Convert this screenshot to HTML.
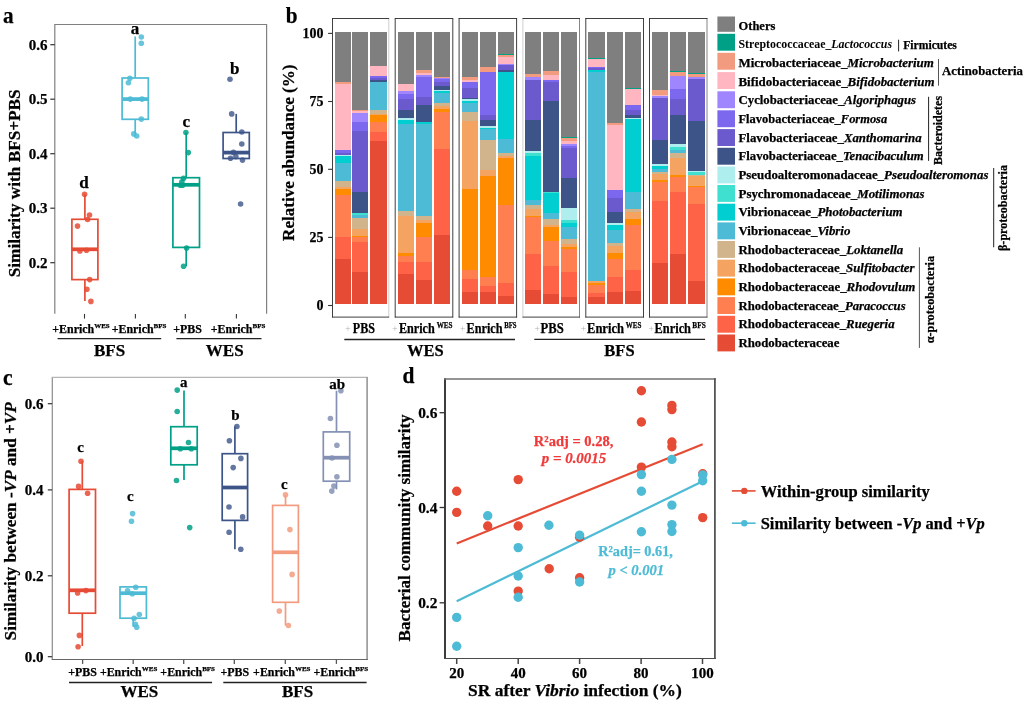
<!DOCTYPE html>
<html><head><meta charset="utf-8"><title>Figure</title>
<style>html,body{margin:0;padding:0;background:#fff;}svg{display:block;font-family:'Liberation Serif', 'Times New Roman', serif;will-change:transform;transform:translateZ(0);}</style>
</head><body>
<svg width="1024" height="703" viewBox="0 0 1024 703">
<rect x="0" y="0" width="1024" height="703" fill="#ffffff"/>
<text x="3.0" y="22.8" font-size="23.5" text-anchor="start" fill="#000" font-weight="bold" textLength="10.6" lengthAdjust="spacingAndGlyphs" stroke="#000" stroke-width="0.25" >a</text>
<path d="M54.8 313.8 V24.5 H266.6 V313.8" fill="none" stroke="#808080" stroke-width="1.2"/>
<line x1="50.3" y1="262.7" x2="54.8" y2="262.7" stroke="#333" stroke-width="1.2" />
<text x="47.6" y="267.5" font-size="15" text-anchor="end" fill="#000" font-weight="bold" stroke="#000" stroke-width="0.25" >0.2</text>
<line x1="50.3" y1="208.2" x2="54.8" y2="208.2" stroke="#333" stroke-width="1.2" />
<text x="47.6" y="213.0" font-size="15" text-anchor="end" fill="#000" font-weight="bold" stroke="#000" stroke-width="0.25" >0.3</text>
<line x1="50.3" y1="153.7" x2="54.8" y2="153.7" stroke="#333" stroke-width="1.2" />
<text x="47.6" y="158.5" font-size="15" text-anchor="end" fill="#000" font-weight="bold" stroke="#000" stroke-width="0.25" >0.4</text>
<line x1="50.3" y1="99.2" x2="54.8" y2="99.2" stroke="#333" stroke-width="1.2" />
<text x="47.6" y="104.0" font-size="15" text-anchor="end" fill="#000" font-weight="bold" stroke="#000" stroke-width="0.25" >0.5</text>
<line x1="50.3" y1="44.7" x2="54.8" y2="44.7" stroke="#333" stroke-width="1.2" />
<text x="47.6" y="49.5" font-size="15" text-anchor="end" fill="#000" font-weight="bold" stroke="#000" stroke-width="0.25" >0.6</text>
<text x="20.3" y="183.3" font-size="17.6" text-anchor="middle" fill="#000" font-weight="bold" transform="rotate(-90 20.3 183.3)" textLength="188.0" lengthAdjust="spacingAndGlyphs" stroke="#000" stroke-width="0.25" >Similarity with BFS+PBS</text>
<line x1="84.5" y1="313.9" x2="84.5" y2="318.6" stroke="#333" stroke-width="1.1" />
<line x1="135.4" y1="313.9" x2="135.4" y2="318.6" stroke="#333" stroke-width="1.1" />
<line x1="185.3" y1="313.9" x2="185.3" y2="318.6" stroke="#333" stroke-width="1.1" />
<line x1="236.4" y1="313.9" x2="236.4" y2="318.6" stroke="#333" stroke-width="1.1" />
<line x1="84.9" y1="194.2" x2="84.9" y2="219.3" stroke="#E64B35" stroke-width="1.7" />
<line x1="84.9" y1="279.6" x2="84.9" y2="300.9" stroke="#E64B35" stroke-width="1.7" />
<rect x="71.90" y="219.30" width="26.00" height="60.30" fill="none" stroke="#E64B35" stroke-width="1.7" />
<line x1="71.9" y1="249.3" x2="97.9" y2="249.3" stroke="#E64B35" stroke-width="3.74" />
<circle cx="84.6" cy="194.2" r="2.8" fill="#E64B35" fill-opacity="0.85"/>
<circle cx="89.5" cy="215.0" r="2.8" fill="#E64B35" fill-opacity="0.85"/>
<circle cx="87.6" cy="219.5" r="2.8" fill="#E64B35" fill-opacity="0.85"/>
<circle cx="77.5" cy="226.1" r="2.8" fill="#E64B35" fill-opacity="0.85"/>
<circle cx="79.9" cy="250.9" r="2.8" fill="#E64B35" fill-opacity="0.85"/>
<circle cx="86.5" cy="250.2" r="2.8" fill="#E64B35" fill-opacity="0.85"/>
<circle cx="89.7" cy="279.6" r="2.8" fill="#E64B35" fill-opacity="0.85"/>
<circle cx="86.9" cy="289.2" r="2.8" fill="#E64B35" fill-opacity="0.85"/>
<circle cx="90.9" cy="301.4" r="2.8" fill="#E64B35" fill-opacity="0.85"/>
<line x1="135.2" y1="36.5" x2="135.2" y2="78.0" stroke="#4DBBD5" stroke-width="1.7" />
<line x1="135.2" y1="119.3" x2="135.2" y2="134.3" stroke="#4DBBD5" stroke-width="1.7" />
<rect x="122.10" y="78.00" width="26.20" height="41.30" fill="none" stroke="#4DBBD5" stroke-width="1.7" />
<line x1="122.1" y1="99.1" x2="148.3" y2="99.1" stroke="#4DBBD5" stroke-width="3.74" />
<circle cx="141.3" cy="37.0" r="2.8" fill="#4DBBD5" fill-opacity="0.85"/>
<circle cx="141.3" cy="43.3" r="2.8" fill="#4DBBD5" fill-opacity="0.85"/>
<circle cx="129.9" cy="78.3" r="2.8" fill="#4DBBD5" fill-opacity="0.85"/>
<circle cx="128.4" cy="82.7" r="2.8" fill="#4DBBD5" fill-opacity="0.85"/>
<circle cx="130.3" cy="99.1" r="2.8" fill="#4DBBD5" fill-opacity="0.85"/>
<circle cx="142.0" cy="99.1" r="2.8" fill="#4DBBD5" fill-opacity="0.85"/>
<circle cx="141.3" cy="119.1" r="2.8" fill="#4DBBD5" fill-opacity="0.85"/>
<circle cx="133.8" cy="133.9" r="2.8" fill="#4DBBD5" fill-opacity="0.85"/>
<circle cx="136.7" cy="136.0" r="2.8" fill="#4DBBD5" fill-opacity="0.85"/>
<line x1="186.2" y1="132.5" x2="186.2" y2="177.7" stroke="#00A087" stroke-width="1.7" />
<line x1="186.2" y1="247.4" x2="186.2" y2="266.2" stroke="#00A087" stroke-width="1.7" />
<rect x="172.90" y="177.70" width="26.60" height="69.70" fill="none" stroke="#00A087" stroke-width="1.7" />
<line x1="172.9" y1="184.8" x2="199.5" y2="184.8" stroke="#00A087" stroke-width="3.74" />
<circle cx="185.9" cy="132.5" r="2.8" fill="#00A087" fill-opacity="0.85"/>
<circle cx="188.3" cy="152.6" r="2.8" fill="#00A087" fill-opacity="0.85"/>
<circle cx="183.6" cy="178.2" r="2.8" fill="#00A087" fill-opacity="0.85"/>
<circle cx="181.9" cy="181.7" r="2.8" fill="#00A087" fill-opacity="0.85"/>
<circle cx="180.3" cy="185.2" r="2.8" fill="#00A087" fill-opacity="0.85"/>
<circle cx="182.6" cy="185.2" r="2.8" fill="#00A087" fill-opacity="0.85"/>
<circle cx="186.6" cy="248.1" r="2.8" fill="#00A087" fill-opacity="0.85"/>
<circle cx="183.6" cy="266.2" r="2.8" fill="#00A087" fill-opacity="0.85"/>
<line x1="236.2" y1="113.9" x2="236.2" y2="132.5" stroke="#3C5488" stroke-width="1.7" />
<rect x="223.10" y="132.50" width="26.20" height="26.00" fill="none" stroke="#3C5488" stroke-width="1.7" />
<line x1="223.1" y1="152.6" x2="249.3" y2="152.6" stroke="#3C5488" stroke-width="3.74" />
<circle cx="230.0" cy="79.2" r="2.8" fill="#3C5488" fill-opacity="0.8"/>
<circle cx="231.7" cy="113.9" r="2.8" fill="#3C5488" fill-opacity="0.8"/>
<circle cx="241.8" cy="132.0" r="2.8" fill="#3C5488" fill-opacity="0.8"/>
<circle cx="241.8" cy="144.0" r="2.8" fill="#3C5488" fill-opacity="0.8"/>
<circle cx="233.5" cy="152.4" r="2.8" fill="#3C5488" fill-opacity="0.8"/>
<circle cx="230.5" cy="158.3" r="2.8" fill="#3C5488" fill-opacity="0.8"/>
<circle cx="235.9" cy="156.6" r="2.8" fill="#3C5488" fill-opacity="0.8"/>
<circle cx="242.5" cy="160.1" r="2.8" fill="#3C5488" fill-opacity="0.8"/>
<circle cx="240.6" cy="204.0" r="2.8" fill="#3C5488" fill-opacity="0.8"/>
<text x="83.9" y="187.6" font-size="17" text-anchor="middle" fill="#000" font-weight="bold" stroke="#000" stroke-width="0.25" >d</text>
<text x="135.0" y="33.5" font-size="17" text-anchor="middle" fill="#000" font-weight="bold" stroke="#000" stroke-width="0.25" >a</text>
<text x="186.2" y="126.8" font-size="17" text-anchor="middle" fill="#000" font-weight="bold" stroke="#000" stroke-width="0.25" >c</text>
<text x="234.7" y="73.8" font-size="17" text-anchor="middle" fill="#000" font-weight="bold" stroke="#000" stroke-width="0.25" >b</text>
<text x="81.0" y="332.6" font-size="11.9" text-anchor="middle" fill="#000" font-weight="bold" stroke="#000" stroke-width="0.25" ><tspan fill="#000" font-weight="bold">+</tspan>Enrich<tspan font-size="7" dy="-4.4">WES</tspan></text>
<text x="139.1" y="332.6" font-size="11.9" text-anchor="middle" fill="#000" font-weight="bold" stroke="#000" stroke-width="0.25" ><tspan fill="#000" font-weight="bold">+</tspan>Enrich<tspan font-size="7" dy="-4.4">BFS</tspan></text>
<text x="187.6" y="332.6" font-size="11.9" text-anchor="middle" fill="#000" font-weight="bold" stroke="#000" stroke-width="0.25" ><tspan fill="#000" font-weight="bold">+</tspan>PBS</text>
<text x="238.0" y="332.6" font-size="11.9" text-anchor="middle" fill="#000" font-weight="bold" stroke="#000" stroke-width="0.25" ><tspan fill="#000" font-weight="bold">+</tspan>Enrich<tspan font-size="7" dy="-4.4">BFS</tspan></text>
<line x1="57.6" y1="338.7" x2="161.2" y2="338.7" stroke="#222" stroke-width="1.3" />
<line x1="176.4" y1="338.7" x2="261.5" y2="338.7" stroke="#222" stroke-width="1.3" />
<text x="109.6" y="356.3" font-size="17" text-anchor="middle" fill="#000" font-weight="bold" stroke="#000" stroke-width="0.25" >BFS</text>
<text x="224.7" y="356.3" font-size="17" text-anchor="middle" fill="#000" font-weight="bold" stroke="#000" stroke-width="0.25" >WES</text>
<text x="285.8" y="22.8" font-size="23.5" text-anchor="start" fill="#000" font-weight="bold" textLength="11.8" lengthAdjust="spacingAndGlyphs" stroke="#000" stroke-width="0.25" >b</text>
<g shape-rendering="crispEdges">
<rect x="334.75" y="32.06" width="16.15" height="49.99" fill="#7F7F7F" stroke="none" stroke-width="1" />
<rect x="334.75" y="81.75" width="16.15" height="2.22" fill="#F39B7F" stroke="none" stroke-width="1" />
<rect x="334.75" y="83.67" width="16.15" height="66.84" fill="#FFB6C1" stroke="none" stroke-width="1" />
<rect x="334.75" y="150.21" width="16.15" height="2.65" fill="#7B68EE" stroke="none" stroke-width="1" />
<rect x="334.75" y="152.56" width="16.15" height="2.43" fill="#6A5ACD" stroke="none" stroke-width="1" />
<rect x="334.75" y="154.69" width="16.15" height="1.79" fill="#AFEEEE" stroke="none" stroke-width="1" />
<rect x="334.75" y="156.18" width="16.15" height="7.10" fill="#00CED1" stroke="none" stroke-width="1" />
<rect x="334.75" y="162.99" width="16.15" height="18.64" fill="#4DBBD5" stroke="none" stroke-width="1" />
<rect x="334.75" y="181.33" width="16.15" height="6.06" fill="#D2B48C" stroke="none" stroke-width="1" />
<rect x="334.75" y="187.08" width="16.15" height="2.65" fill="#F4A460" stroke="none" stroke-width="1" />
<rect x="334.75" y="189.43" width="16.15" height="5.84" fill="#FF8C00" stroke="none" stroke-width="1" />
<rect x="334.75" y="194.98" width="16.15" height="42.10" fill="#FF7F50" stroke="none" stroke-width="1" />
<rect x="334.75" y="236.78" width="16.15" height="22.27" fill="#FF6347" stroke="none" stroke-width="1" />
<rect x="334.75" y="258.74" width="16.15" height="45.63" fill="#E64B35" stroke="none" stroke-width="1" />
</g>
<g shape-rendering="crispEdges">
<rect x="352.25" y="32.06" width="16.15" height="78.36" fill="#7F7F7F" stroke="none" stroke-width="1" />
<rect x="352.25" y="110.12" width="16.15" height="1.58" fill="#F39B7F" stroke="none" stroke-width="1" />
<rect x="352.25" y="111.40" width="16.15" height="1.58" fill="#FFB6C1" stroke="none" stroke-width="1" />
<rect x="352.25" y="112.68" width="16.15" height="9.26" fill="#9F86FF" stroke="none" stroke-width="1" />
<rect x="352.25" y="121.63" width="16.15" height="9.90" fill="#7B68EE" stroke="none" stroke-width="1" />
<rect x="352.25" y="131.23" width="16.15" height="61.06" fill="#6A5ACD" stroke="none" stroke-width="1" />
<rect x="352.25" y="191.99" width="16.15" height="21.20" fill="#3C5488" stroke="none" stroke-width="1" />
<rect x="352.25" y="212.89" width="16.15" height="2.01" fill="#40E0D0" stroke="none" stroke-width="1" />
<rect x="352.25" y="214.60" width="16.15" height="3.71" fill="#4DBBD5" stroke="none" stroke-width="1" />
<rect x="352.25" y="218.01" width="16.15" height="10.96" fill="#D2B48C" stroke="none" stroke-width="1" />
<rect x="352.25" y="228.67" width="16.15" height="7.12" fill="#F4A460" stroke="none" stroke-width="1" />
<rect x="352.25" y="235.50" width="16.15" height="1.58" fill="#FF8C00" stroke="none" stroke-width="1" />
<rect x="352.25" y="236.78" width="16.15" height="5.63" fill="#FF7F50" stroke="none" stroke-width="1" />
<rect x="352.25" y="242.11" width="16.15" height="29.73" fill="#FF6347" stroke="none" stroke-width="1" />
<rect x="352.25" y="271.54" width="16.15" height="32.83" fill="#E64B35" stroke="none" stroke-width="1" />
</g>
<g shape-rendering="crispEdges">
<rect x="370.00" y="32.06" width="16.90" height="33.78" fill="#7F7F7F" stroke="none" stroke-width="1" />
<rect x="370.00" y="65.54" width="16.90" height="11.18" fill="#FFB6C1" stroke="none" stroke-width="1" />
<rect x="370.00" y="76.42" width="16.90" height="2.22" fill="#7B68EE" stroke="none" stroke-width="1" />
<rect x="370.00" y="78.34" width="16.90" height="2.22" fill="#6A5ACD" stroke="none" stroke-width="1" />
<rect x="370.00" y="80.26" width="16.90" height="2.01" fill="#3C5488" stroke="none" stroke-width="1" />
<rect x="370.00" y="81.97" width="16.90" height="28.45" fill="#4DBBD5" stroke="none" stroke-width="1" />
<rect x="370.00" y="110.12" width="16.90" height="3.71" fill="#D2B48C" stroke="none" stroke-width="1" />
<rect x="370.00" y="113.53" width="16.90" height="2.01" fill="#F4A460" stroke="none" stroke-width="1" />
<rect x="370.00" y="115.23" width="16.90" height="7.12" fill="#FF8C00" stroke="none" stroke-width="1" />
<rect x="370.00" y="122.06" width="16.90" height="10.11" fill="#FF7F50" stroke="none" stroke-width="1" />
<rect x="370.00" y="131.87" width="16.90" height="9.26" fill="#FF6347" stroke="none" stroke-width="1" />
<rect x="370.00" y="140.83" width="16.90" height="163.54" fill="#E64B35" stroke="none" stroke-width="1" />
</g>
<line x1="332.5" y1="18.1" x2="332.5" y2="317.5" stroke="#2a2a2a" stroke-width="0.9" />
<line x1="388.8" y1="18.1" x2="388.8" y2="317.5" stroke="#c8c8c8" stroke-width="0.9" />
<line x1="332.1" y1="18.5" x2="389.1" y2="18.5" stroke="#2a2a2a" stroke-width="0.9" />
<line x1="332.1" y1="317.1" x2="389.1" y2="317.1" stroke="#2a2a2a" stroke-width="0.9" />
<g shape-rendering="crispEdges">
<rect x="398.10" y="32.06" width="15.90" height="52.12" fill="#7F7F7F" stroke="none" stroke-width="1" />
<rect x="398.10" y="83.88" width="15.90" height="7.34" fill="#FFB6C1" stroke="none" stroke-width="1" />
<rect x="398.10" y="90.92" width="15.90" height="3.29" fill="#9F86FF" stroke="none" stroke-width="1" />
<rect x="398.10" y="93.91" width="15.90" height="5.63" fill="#7B68EE" stroke="none" stroke-width="1" />
<rect x="398.10" y="99.24" width="15.90" height="10.96" fill="#6A5ACD" stroke="none" stroke-width="1" />
<rect x="398.10" y="109.90" width="15.90" height="8.83" fill="#3C5488" stroke="none" stroke-width="1" />
<rect x="398.10" y="118.43" width="15.90" height="1.37" fill="#AFEEEE" stroke="none" stroke-width="1" />
<rect x="398.10" y="119.50" width="15.90" height="4.57" fill="#00CED1" stroke="none" stroke-width="1" />
<rect x="398.10" y="123.77" width="15.90" height="87.29" fill="#4DBBD5" stroke="none" stroke-width="1" />
<rect x="398.10" y="210.76" width="15.90" height="5.42" fill="#D2B48C" stroke="none" stroke-width="1" />
<rect x="398.10" y="215.88" width="15.90" height="36.98" fill="#F4A460" stroke="none" stroke-width="1" />
<rect x="398.10" y="252.56" width="15.90" height="3.71" fill="#FF8C00" stroke="none" stroke-width="1" />
<rect x="398.10" y="255.97" width="15.90" height="5.84" fill="#FF7F50" stroke="none" stroke-width="1" />
<rect x="398.10" y="261.51" width="15.90" height="12.88" fill="#FF6347" stroke="none" stroke-width="1" />
<rect x="398.10" y="274.10" width="15.90" height="30.27" fill="#E64B35" stroke="none" stroke-width="1" />
</g>
<g shape-rendering="crispEdges">
<rect x="416.00" y="32.06" width="15.90" height="38.69" fill="#7F7F7F" stroke="none" stroke-width="1" />
<rect x="416.00" y="70.45" width="15.90" height="2.86" fill="#F39B7F" stroke="none" stroke-width="1" />
<rect x="416.00" y="73.01" width="15.90" height="2.01" fill="#FFB6C1" stroke="none" stroke-width="1" />
<rect x="416.00" y="74.71" width="15.90" height="2.43" fill="#9F86FF" stroke="none" stroke-width="1" />
<rect x="416.00" y="76.85" width="15.90" height="20.56" fill="#7B68EE" stroke="none" stroke-width="1" />
<rect x="416.00" y="97.11" width="15.90" height="8.19" fill="#6A5ACD" stroke="none" stroke-width="1" />
<rect x="416.00" y="105.00" width="15.90" height="16.93" fill="#3C5488" stroke="none" stroke-width="1" />
<rect x="416.00" y="121.63" width="15.90" height="2.43" fill="#00CED1" stroke="none" stroke-width="1" />
<rect x="416.00" y="123.77" width="15.90" height="92.41" fill="#4DBBD5" stroke="none" stroke-width="1" />
<rect x="416.00" y="215.88" width="15.90" height="4.14" fill="#D2B48C" stroke="none" stroke-width="1" />
<rect x="416.00" y="219.71" width="15.90" height="3.29" fill="#F4A460" stroke="none" stroke-width="1" />
<rect x="416.00" y="222.70" width="15.90" height="14.38" fill="#FF8C00" stroke="none" stroke-width="1" />
<rect x="416.00" y="236.78" width="15.90" height="25.04" fill="#FF7F50" stroke="none" stroke-width="1" />
<rect x="416.00" y="261.51" width="15.90" height="18.43" fill="#FF6347" stroke="none" stroke-width="1" />
<rect x="416.00" y="279.64" width="15.90" height="24.73" fill="#E64B35" stroke="none" stroke-width="1" />
</g>
<g shape-rendering="crispEdges">
<rect x="434.00" y="32.06" width="16.25" height="45.09" fill="#7F7F7F" stroke="none" stroke-width="1" />
<rect x="434.00" y="76.85" width="16.25" height="1.58" fill="#F39B7F" stroke="none" stroke-width="1" />
<rect x="434.00" y="78.13" width="16.25" height="1.58" fill="#9F86FF" stroke="none" stroke-width="1" />
<rect x="434.00" y="79.41" width="16.25" height="2.43" fill="#7B68EE" stroke="none" stroke-width="1" />
<rect x="434.00" y="81.54" width="16.25" height="4.57" fill="#6A5ACD" stroke="none" stroke-width="1" />
<rect x="434.00" y="85.80" width="16.25" height="4.14" fill="#3C5488" stroke="none" stroke-width="1" />
<rect x="434.00" y="89.64" width="16.25" height="1.15" fill="#AFEEEE" stroke="none" stroke-width="1" />
<rect x="434.00" y="90.50" width="16.25" height="2.65" fill="#00CED1" stroke="none" stroke-width="1" />
<rect x="434.00" y="92.84" width="16.25" height="10.32" fill="#4DBBD5" stroke="none" stroke-width="1" />
<rect x="434.00" y="102.87" width="16.25" height="3.71" fill="#D2B48C" stroke="none" stroke-width="1" />
<rect x="434.00" y="106.28" width="16.25" height="3.29" fill="#F4A460" stroke="none" stroke-width="1" />
<rect x="434.00" y="109.26" width="16.25" height="3.29" fill="#FF8C00" stroke="none" stroke-width="1" />
<rect x="434.00" y="112.25" width="16.25" height="36.56" fill="#FF7F50" stroke="none" stroke-width="1" />
<rect x="434.00" y="148.50" width="16.25" height="86.87" fill="#FF6347" stroke="none" stroke-width="1" />
<rect x="434.00" y="235.07" width="16.25" height="69.30" fill="#E64B35" stroke="none" stroke-width="1" />
</g>
<line x1="395.2" y1="18.1" x2="395.2" y2="317.5" stroke="#2a2a2a" stroke-width="0.9" />
<line x1="452.8" y1="18.1" x2="452.8" y2="317.5" stroke="#2a2a2a" stroke-width="0.9" />
<line x1="394.9" y1="18.5" x2="453.1" y2="18.5" stroke="#2a2a2a" stroke-width="0.9" />
<line x1="394.9" y1="317.1" x2="453.1" y2="317.1" stroke="#2a2a2a" stroke-width="0.9" />
<g shape-rendering="crispEdges">
<rect x="461.60" y="32.06" width="15.90" height="45.09" fill="#7F7F7F" stroke="none" stroke-width="1" />
<rect x="461.60" y="76.85" width="15.90" height="3.93" fill="#F39B7F" stroke="none" stroke-width="1" />
<rect x="461.60" y="80.47" width="15.90" height="1.79" fill="#FFB6C1" stroke="none" stroke-width="1" />
<rect x="461.60" y="81.97" width="15.90" height="5.84" fill="#7B68EE" stroke="none" stroke-width="1" />
<rect x="461.60" y="87.51" width="15.90" height="10.54" fill="#6A5ACD" stroke="none" stroke-width="1" />
<rect x="461.60" y="97.75" width="15.90" height="1.79" fill="#3C5488" stroke="none" stroke-width="1" />
<rect x="461.60" y="99.24" width="15.90" height="2.43" fill="#AFEEEE" stroke="none" stroke-width="1" />
<rect x="461.60" y="101.37" width="15.90" height="1.79" fill="#00CED1" stroke="none" stroke-width="1" />
<rect x="461.60" y="102.87" width="15.90" height="9.47" fill="#4DBBD5" stroke="none" stroke-width="1" />
<rect x="461.60" y="112.04" width="15.90" height="9.47" fill="#D2B48C" stroke="none" stroke-width="1" />
<rect x="461.60" y="121.21" width="15.90" height="68.52" fill="#F4A460" stroke="none" stroke-width="1" />
<rect x="461.60" y="189.43" width="15.90" height="80.70" fill="#FF8C00" stroke="none" stroke-width="1" />
<rect x="461.60" y="269.83" width="15.90" height="9.26" fill="#FF7F50" stroke="none" stroke-width="1" />
<rect x="461.60" y="278.79" width="15.90" height="13.31" fill="#FF6347" stroke="none" stroke-width="1" />
<rect x="461.60" y="291.80" width="15.90" height="12.57" fill="#E64B35" stroke="none" stroke-width="1" />
</g>
<g shape-rendering="crispEdges">
<rect x="480.00" y="32.06" width="16.00" height="35.49" fill="#7F7F7F" stroke="none" stroke-width="1" />
<rect x="480.00" y="67.25" width="16.00" height="4.78" fill="#F39B7F" stroke="none" stroke-width="1" />
<rect x="480.00" y="71.73" width="16.00" height="43.38" fill="#7B68EE" stroke="none" stroke-width="1" />
<rect x="480.00" y="114.81" width="16.00" height="4.99" fill="#6A5ACD" stroke="none" stroke-width="1" />
<rect x="480.00" y="119.50" width="16.00" height="7.12" fill="#3C5488" stroke="none" stroke-width="1" />
<rect x="480.00" y="126.32" width="16.00" height="1.58" fill="#AFEEEE" stroke="none" stroke-width="1" />
<rect x="480.00" y="127.60" width="16.00" height="1.79" fill="#00CED1" stroke="none" stroke-width="1" />
<rect x="480.00" y="129.10" width="16.00" height="10.75" fill="#4DBBD5" stroke="none" stroke-width="1" />
<rect x="480.00" y="139.55" width="16.00" height="30.99" fill="#D2B48C" stroke="none" stroke-width="1" />
<rect x="480.00" y="170.24" width="16.00" height="5.84" fill="#F4A460" stroke="none" stroke-width="1" />
<rect x="480.00" y="175.78" width="16.00" height="101.39" fill="#FF8C00" stroke="none" stroke-width="1" />
<rect x="480.00" y="276.87" width="16.00" height="9.68" fill="#FF7F50" stroke="none" stroke-width="1" />
<rect x="480.00" y="286.25" width="16.00" height="6.27" fill="#FF6347" stroke="none" stroke-width="1" />
<rect x="480.00" y="292.22" width="16.00" height="12.14" fill="#E64B35" stroke="none" stroke-width="1" />
</g>
<g shape-rendering="crispEdges">
<rect x="497.90" y="32.06" width="15.85" height="22.05" fill="#7F7F7F" stroke="none" stroke-width="1" />
<rect x="497.90" y="53.81" width="15.85" height="1.58" fill="#00A087" stroke="none" stroke-width="1" />
<rect x="497.90" y="55.09" width="15.85" height="2.43" fill="#F39B7F" stroke="none" stroke-width="1" />
<rect x="497.90" y="57.23" width="15.85" height="7.12" fill="#FFB6C1" stroke="none" stroke-width="1" />
<rect x="497.90" y="64.05" width="15.85" height="1.15" fill="#9F86FF" stroke="none" stroke-width="1" />
<rect x="497.90" y="64.90" width="15.85" height="5.42" fill="#6A5ACD" stroke="none" stroke-width="1" />
<rect x="497.90" y="70.02" width="15.85" height="2.01" fill="#3C5488" stroke="none" stroke-width="1" />
<rect x="497.90" y="71.73" width="15.85" height="67.27" fill="#00CED1" stroke="none" stroke-width="1" />
<rect x="497.90" y="138.69" width="15.85" height="14.80" fill="#4DBBD5" stroke="none" stroke-width="1" />
<rect x="497.90" y="153.20" width="15.85" height="2.86" fill="#D2B48C" stroke="none" stroke-width="1" />
<rect x="497.90" y="155.75" width="15.85" height="2.43" fill="#F4A460" stroke="none" stroke-width="1" />
<rect x="497.90" y="157.89" width="15.85" height="47.20" fill="#FF8C00" stroke="none" stroke-width="1" />
<rect x="497.90" y="204.79" width="15.85" height="78.14" fill="#FF7F50" stroke="none" stroke-width="1" />
<rect x="497.90" y="282.63" width="15.85" height="13.52" fill="#FF6347" stroke="none" stroke-width="1" />
<rect x="497.90" y="295.85" width="15.85" height="8.52" fill="#E64B35" stroke="none" stroke-width="1" />
</g>
<line x1="459.1" y1="18.1" x2="459.1" y2="317.5" stroke="#2a2a2a" stroke-width="0.9" />
<line x1="516.6" y1="18.1" x2="516.6" y2="317.5" stroke="#2a2a2a" stroke-width="0.9" />
<line x1="458.7" y1="18.5" x2="517.0" y2="18.5" stroke="#2a2a2a" stroke-width="0.9" />
<line x1="458.7" y1="317.1" x2="517.0" y2="317.1" stroke="#2a2a2a" stroke-width="0.9" />
<g shape-rendering="crispEdges">
<rect x="525.10" y="32.06" width="16.15" height="42.31" fill="#7F7F7F" stroke="none" stroke-width="1" />
<rect x="525.10" y="74.07" width="16.15" height="3.71" fill="#F39B7F" stroke="none" stroke-width="1" />
<rect x="525.10" y="77.49" width="16.15" height="3.29" fill="#9F86FF" stroke="none" stroke-width="1" />
<rect x="525.10" y="80.47" width="16.15" height="39.33" fill="#6A5ACD" stroke="none" stroke-width="1" />
<rect x="525.10" y="119.50" width="16.15" height="31.65" fill="#3C5488" stroke="none" stroke-width="1" />
<rect x="525.10" y="150.85" width="16.15" height="2.01" fill="#AFEEEE" stroke="none" stroke-width="1" />
<rect x="525.10" y="152.56" width="16.15" height="3.50" fill="#40E0D0" stroke="none" stroke-width="1" />
<rect x="525.10" y="155.75" width="16.15" height="44.64" fill="#00CED1" stroke="none" stroke-width="1" />
<rect x="525.10" y="200.09" width="16.15" height="5.42" fill="#4DBBD5" stroke="none" stroke-width="1" />
<rect x="525.10" y="205.21" width="16.15" height="4.57" fill="#D2B48C" stroke="none" stroke-width="1" />
<rect x="525.10" y="209.48" width="16.15" height="6.70" fill="#F4A460" stroke="none" stroke-width="1" />
<rect x="525.10" y="215.88" width="16.15" height="1.37" fill="#FF8C00" stroke="none" stroke-width="1" />
<rect x="525.10" y="216.94" width="16.15" height="37.19" fill="#FF7F50" stroke="none" stroke-width="1" />
<rect x="525.10" y="253.84" width="16.15" height="36.13" fill="#FF6347" stroke="none" stroke-width="1" />
<rect x="525.10" y="289.67" width="16.15" height="14.70" fill="#E64B35" stroke="none" stroke-width="1" />
</g>
<g shape-rendering="crispEdges">
<rect x="543.10" y="32.06" width="15.65" height="39.33" fill="#7F7F7F" stroke="none" stroke-width="1" />
<rect x="543.10" y="71.09" width="15.65" height="4.57" fill="#F39B7F" stroke="none" stroke-width="1" />
<rect x="543.10" y="75.35" width="15.65" height="5.42" fill="#FFB6C1" stroke="none" stroke-width="1" />
<rect x="543.10" y="80.47" width="15.65" height="1.37" fill="#7B68EE" stroke="none" stroke-width="1" />
<rect x="543.10" y="81.54" width="15.65" height="19.71" fill="#6A5ACD" stroke="none" stroke-width="1" />
<rect x="543.10" y="100.95" width="15.65" height="91.34" fill="#3C5488" stroke="none" stroke-width="1" />
<rect x="543.10" y="191.99" width="15.65" height="1.79" fill="#40E0D0" stroke="none" stroke-width="1" />
<rect x="543.10" y="193.48" width="15.65" height="20.13" fill="#00CED1" stroke="none" stroke-width="1" />
<rect x="543.10" y="213.32" width="15.65" height="5.84" fill="#4DBBD5" stroke="none" stroke-width="1" />
<rect x="543.10" y="218.86" width="15.65" height="6.48" fill="#D2B48C" stroke="none" stroke-width="1" />
<rect x="543.10" y="225.05" width="15.65" height="2.01" fill="#F4A460" stroke="none" stroke-width="1" />
<rect x="543.10" y="226.75" width="15.65" height="15.02" fill="#FF8C00" stroke="none" stroke-width="1" />
<rect x="543.10" y="241.47" width="15.65" height="24.83" fill="#FF7F50" stroke="none" stroke-width="1" />
<rect x="543.10" y="265.99" width="15.65" height="28.66" fill="#FF6347" stroke="none" stroke-width="1" />
<rect x="543.10" y="294.36" width="15.65" height="10.01" fill="#E64B35" stroke="none" stroke-width="1" />
</g>
<g shape-rendering="crispEdges">
<rect x="561.00" y="32.06" width="16.00" height="104.80" fill="#7F7F7F" stroke="none" stroke-width="1" />
<rect x="561.00" y="136.56" width="16.00" height="1.79" fill="#00A087" stroke="none" stroke-width="1" />
<rect x="561.00" y="138.05" width="16.00" height="3.07" fill="#F39B7F" stroke="none" stroke-width="1" />
<rect x="561.00" y="140.83" width="16.00" height="3.93" fill="#FFB6C1" stroke="none" stroke-width="1" />
<rect x="561.00" y="144.45" width="16.00" height="1.58" fill="#9F86FF" stroke="none" stroke-width="1" />
<rect x="561.00" y="145.73" width="16.00" height="2.22" fill="#7B68EE" stroke="none" stroke-width="1" />
<rect x="561.00" y="147.65" width="16.00" height="30.56" fill="#6A5ACD" stroke="none" stroke-width="1" />
<rect x="561.00" y="177.91" width="16.00" height="30.16" fill="#3C5488" stroke="none" stroke-width="1" />
<rect x="561.00" y="207.77" width="16.00" height="12.46" fill="#AFEEEE" stroke="none" stroke-width="1" />
<rect x="561.00" y="219.93" width="16.00" height="3.50" fill="#40E0D0" stroke="none" stroke-width="1" />
<rect x="561.00" y="223.13" width="16.00" height="4.14" fill="#00CED1" stroke="none" stroke-width="1" />
<rect x="561.00" y="226.97" width="16.00" height="12.46" fill="#4DBBD5" stroke="none" stroke-width="1" />
<rect x="561.00" y="239.12" width="16.00" height="4.78" fill="#D2B48C" stroke="none" stroke-width="1" />
<rect x="561.00" y="243.60" width="16.00" height="3.71" fill="#F4A460" stroke="none" stroke-width="1" />
<rect x="561.00" y="247.01" width="16.00" height="2.22" fill="#FF8C00" stroke="none" stroke-width="1" />
<rect x="561.00" y="248.93" width="16.00" height="23.76" fill="#FF7F50" stroke="none" stroke-width="1" />
<rect x="561.00" y="272.39" width="16.00" height="25.04" fill="#FF6347" stroke="none" stroke-width="1" />
<rect x="561.00" y="297.13" width="16.00" height="7.24" fill="#E64B35" stroke="none" stroke-width="1" />
</g>
<line x1="522.9" y1="18.1" x2="522.9" y2="317.5" stroke="#c8c8c8" stroke-width="0.9" />
<line x1="579.5" y1="18.1" x2="579.5" y2="317.5" stroke="#777" stroke-width="0.9" />
<line x1="522.5" y1="18.5" x2="579.9" y2="18.5" stroke="#2a2a2a" stroke-width="0.9" />
<line x1="522.5" y1="317.1" x2="579.9" y2="317.1" stroke="#2a2a2a" stroke-width="0.9" />
<g shape-rendering="crispEdges">
<rect x="588.25" y="32.06" width="16.65" height="26.53" fill="#7F7F7F" stroke="none" stroke-width="1" />
<rect x="588.25" y="58.29" width="16.65" height="1.37" fill="#00A087" stroke="none" stroke-width="1" />
<rect x="588.25" y="59.36" width="16.65" height="7.55" fill="#FFB6C1" stroke="none" stroke-width="1" />
<rect x="588.25" y="66.61" width="16.65" height="2.01" fill="#7B68EE" stroke="none" stroke-width="1" />
<rect x="588.25" y="68.32" width="16.65" height="2.01" fill="#6A5ACD" stroke="none" stroke-width="1" />
<rect x="588.25" y="70.02" width="16.65" height="2.01" fill="#00CED1" stroke="none" stroke-width="1" />
<rect x="588.25" y="71.73" width="16.65" height="209.71" fill="#4DBBD5" stroke="none" stroke-width="1" />
<rect x="588.25" y="281.13" width="16.65" height="2.43" fill="#F4A460" stroke="none" stroke-width="1" />
<rect x="588.25" y="283.27" width="16.65" height="2.43" fill="#FF8C00" stroke="none" stroke-width="1" />
<rect x="588.25" y="285.40" width="16.65" height="7.55" fill="#FF7F50" stroke="none" stroke-width="1" />
<rect x="588.25" y="292.65" width="16.65" height="4.57" fill="#FF6347" stroke="none" stroke-width="1" />
<rect x="588.25" y="296.92" width="16.65" height="7.45" fill="#E64B35" stroke="none" stroke-width="1" />
</g>
<g shape-rendering="crispEdges">
<rect x="606.75" y="32.06" width="15.85" height="91.36" fill="#7F7F7F" stroke="none" stroke-width="1" />
<rect x="606.75" y="123.13" width="15.85" height="2.01" fill="#F39B7F" stroke="none" stroke-width="1" />
<rect x="606.75" y="124.83" width="15.85" height="65.33" fill="#FFB6C1" stroke="none" stroke-width="1" />
<rect x="606.75" y="189.86" width="15.85" height="8.40" fill="#7B68EE" stroke="none" stroke-width="1" />
<rect x="606.75" y="197.96" width="15.85" height="14.59" fill="#6A5ACD" stroke="none" stroke-width="1" />
<rect x="606.75" y="212.25" width="15.85" height="11.18" fill="#3C5488" stroke="none" stroke-width="1" />
<rect x="606.75" y="223.13" width="15.85" height="2.01" fill="#AFEEEE" stroke="none" stroke-width="1" />
<rect x="606.75" y="224.83" width="15.85" height="5.42" fill="#00CED1" stroke="none" stroke-width="1" />
<rect x="606.75" y="229.95" width="15.85" height="13.52" fill="#4DBBD5" stroke="none" stroke-width="1" />
<rect x="606.75" y="243.17" width="15.85" height="2.86" fill="#D2B48C" stroke="none" stroke-width="1" />
<rect x="606.75" y="245.73" width="15.85" height="7.12" fill="#F4A460" stroke="none" stroke-width="1" />
<rect x="606.75" y="252.56" width="15.85" height="6.70" fill="#FF8C00" stroke="none" stroke-width="1" />
<rect x="606.75" y="258.96" width="15.85" height="18.21" fill="#FF7F50" stroke="none" stroke-width="1" />
<rect x="606.75" y="276.87" width="15.85" height="15.23" fill="#FF6347" stroke="none" stroke-width="1" />
<rect x="606.75" y="291.80" width="15.85" height="12.57" fill="#E64B35" stroke="none" stroke-width="1" />
</g>
<g shape-rendering="crispEdges">
<rect x="625.10" y="32.06" width="15.65" height="55.75" fill="#7F7F7F" stroke="none" stroke-width="1" />
<rect x="625.10" y="87.51" width="15.65" height="1.58" fill="#00A087" stroke="none" stroke-width="1" />
<rect x="625.10" y="88.79" width="15.65" height="16.51" fill="#FFB6C1" stroke="none" stroke-width="1" />
<rect x="625.10" y="105.00" width="15.65" height="5.21" fill="#7B68EE" stroke="none" stroke-width="1" />
<rect x="625.10" y="109.90" width="15.65" height="5.21" fill="#6A5ACD" stroke="none" stroke-width="1" />
<rect x="625.10" y="114.81" width="15.65" height="3.50" fill="#3C5488" stroke="none" stroke-width="1" />
<rect x="625.10" y="118.01" width="15.65" height="1.37" fill="#AFEEEE" stroke="none" stroke-width="1" />
<rect x="625.10" y="119.07" width="15.65" height="73.64" fill="#00CED1" stroke="none" stroke-width="1" />
<rect x="625.10" y="192.42" width="15.65" height="16.93" fill="#4DBBD5" stroke="none" stroke-width="1" />
<rect x="625.10" y="209.05" width="15.65" height="2.86" fill="#D2B48C" stroke="none" stroke-width="1" />
<rect x="625.10" y="211.61" width="15.65" height="7.55" fill="#F4A460" stroke="none" stroke-width="1" />
<rect x="625.10" y="218.86" width="15.65" height="6.70" fill="#FF8C00" stroke="none" stroke-width="1" />
<rect x="625.10" y="225.26" width="15.65" height="44.87" fill="#FF7F50" stroke="none" stroke-width="1" />
<rect x="625.10" y="269.83" width="15.65" height="21.20" fill="#FF6347" stroke="none" stroke-width="1" />
<rect x="625.10" y="290.73" width="15.65" height="13.64" fill="#E64B35" stroke="none" stroke-width="1" />
</g>
<line x1="585.8" y1="18.1" x2="585.8" y2="317.5" stroke="#2a2a2a" stroke-width="0.9" />
<line x1="643.5" y1="18.1" x2="643.5" y2="317.5" stroke="#2a2a2a" stroke-width="0.9" />
<line x1="585.4" y1="18.5" x2="643.9" y2="18.5" stroke="#2a2a2a" stroke-width="0.9" />
<line x1="585.4" y1="317.1" x2="643.9" y2="317.1" stroke="#2a2a2a" stroke-width="0.9" />
<g shape-rendering="crispEdges">
<rect x="652.00" y="32.06" width="16.00" height="58.31" fill="#7F7F7F" stroke="none" stroke-width="1" />
<rect x="652.00" y="90.07" width="16.00" height="5.21" fill="#F39B7F" stroke="none" stroke-width="1" />
<rect x="652.00" y="94.97" width="16.00" height="1.79" fill="#FFB6C1" stroke="none" stroke-width="1" />
<rect x="652.00" y="96.47" width="16.00" height="1.37" fill="#9F86FF" stroke="none" stroke-width="1" />
<rect x="652.00" y="97.53" width="16.00" height="43.17" fill="#6A5ACD" stroke="none" stroke-width="1" />
<rect x="652.00" y="140.40" width="16.00" height="23.74" fill="#3C5488" stroke="none" stroke-width="1" />
<rect x="652.00" y="163.84" width="16.00" height="2.43" fill="#AFEEEE" stroke="none" stroke-width="1" />
<rect x="652.00" y="165.97" width="16.00" height="2.86" fill="#00CED1" stroke="none" stroke-width="1" />
<rect x="652.00" y="168.53" width="16.00" height="3.93" fill="#4DBBD5" stroke="none" stroke-width="1" />
<rect x="652.00" y="172.16" width="16.00" height="2.22" fill="#D2B48C" stroke="none" stroke-width="1" />
<rect x="652.00" y="174.08" width="16.00" height="6.48" fill="#F4A460" stroke="none" stroke-width="1" />
<rect x="652.00" y="180.26" width="16.00" height="2.43" fill="#FF8C00" stroke="none" stroke-width="1" />
<rect x="652.00" y="182.39" width="16.00" height="19.07" fill="#FF7F50" stroke="none" stroke-width="1" />
<rect x="652.00" y="201.16" width="16.00" height="62.36" fill="#FF6347" stroke="none" stroke-width="1" />
<rect x="652.00" y="263.22" width="16.00" height="41.15" fill="#E64B35" stroke="none" stroke-width="1" />
</g>
<g shape-rendering="crispEdges">
<rect x="670.10" y="32.06" width="15.90" height="39.33" fill="#7F7F7F" stroke="none" stroke-width="1" />
<rect x="670.10" y="71.09" width="15.90" height="1.37" fill="#00A087" stroke="none" stroke-width="1" />
<rect x="670.10" y="72.16" width="15.90" height="3.93" fill="#F39B7F" stroke="none" stroke-width="1" />
<rect x="670.10" y="75.78" width="15.90" height="13.74" fill="#9F86FF" stroke="none" stroke-width="1" />
<rect x="670.10" y="89.22" width="15.90" height="10.32" fill="#7B68EE" stroke="none" stroke-width="1" />
<rect x="670.10" y="99.24" width="15.90" height="16.29" fill="#6A5ACD" stroke="none" stroke-width="1" />
<rect x="670.10" y="115.23" width="15.90" height="29.09" fill="#3C5488" stroke="none" stroke-width="1" />
<rect x="670.10" y="144.03" width="15.90" height="3.07" fill="#AFEEEE" stroke="none" stroke-width="1" />
<rect x="670.10" y="146.80" width="15.90" height="3.93" fill="#40E0D0" stroke="none" stroke-width="1" />
<rect x="670.10" y="150.42" width="15.90" height="3.07" fill="#4DBBD5" stroke="none" stroke-width="1" />
<rect x="670.10" y="153.20" width="15.90" height="4.99" fill="#D2B48C" stroke="none" stroke-width="1" />
<rect x="670.10" y="157.89" width="15.90" height="17.34" fill="#F4A460" stroke="none" stroke-width="1" />
<rect x="670.10" y="174.93" width="15.90" height="2.43" fill="#FF8C00" stroke="none" stroke-width="1" />
<rect x="670.10" y="177.06" width="15.90" height="15.23" fill="#FF7F50" stroke="none" stroke-width="1" />
<rect x="670.10" y="191.99" width="15.90" height="62.15" fill="#FF6347" stroke="none" stroke-width="1" />
<rect x="670.10" y="253.84" width="15.90" height="50.53" fill="#E64B35" stroke="none" stroke-width="1" />
</g>
<g shape-rendering="crispEdges">
<rect x="688.25" y="32.06" width="16.50" height="41.03" fill="#7F7F7F" stroke="none" stroke-width="1" />
<rect x="688.25" y="72.79" width="16.50" height="1.37" fill="#00A087" stroke="none" stroke-width="1" />
<rect x="688.25" y="73.86" width="16.50" height="3.71" fill="#F39B7F" stroke="none" stroke-width="1" />
<rect x="688.25" y="77.27" width="16.50" height="2.01" fill="#9F86FF" stroke="none" stroke-width="1" />
<rect x="688.25" y="78.98" width="16.50" height="42.31" fill="#6A5ACD" stroke="none" stroke-width="1" />
<rect x="688.25" y="120.99" width="16.50" height="50.61" fill="#3C5488" stroke="none" stroke-width="1" />
<rect x="688.25" y="171.30" width="16.50" height="1.37" fill="#AFEEEE" stroke="none" stroke-width="1" />
<rect x="688.25" y="172.37" width="16.50" height="2.43" fill="#40E0D0" stroke="none" stroke-width="1" />
<rect x="688.25" y="174.50" width="16.50" height="1.79" fill="#D2B48C" stroke="none" stroke-width="1" />
<rect x="688.25" y="175.99" width="16.50" height="9.90" fill="#F4A460" stroke="none" stroke-width="1" />
<rect x="688.25" y="185.59" width="16.50" height="1.58" fill="#FF8C00" stroke="none" stroke-width="1" />
<rect x="688.25" y="186.87" width="16.50" height="17.36" fill="#FF7F50" stroke="none" stroke-width="1" />
<rect x="688.25" y="203.93" width="16.50" height="77.08" fill="#FF6347" stroke="none" stroke-width="1" />
<rect x="688.25" y="280.71" width="16.50" height="23.66" fill="#E64B35" stroke="none" stroke-width="1" />
</g>
<line x1="649.5" y1="18.1" x2="649.5" y2="317.5" stroke="#2a2a2a" stroke-width="0.9" />
<line x1="707.0" y1="18.1" x2="707.0" y2="317.5" stroke="#777" stroke-width="0.9" />
<line x1="649.1" y1="18.5" x2="707.4" y2="18.5" stroke="#2a2a2a" stroke-width="0.9" />
<line x1="649.1" y1="317.1" x2="707.4" y2="317.1" stroke="#2a2a2a" stroke-width="0.9" />
<line x1="328.1" y1="33.4" x2="332.2" y2="33.4" stroke="#333" stroke-width="1.1" />
<text x="323.4" y="37.9" font-size="15" text-anchor="end" fill="#000" font-weight="bold" textLength="20.9" lengthAdjust="spacingAndGlyphs" stroke="#000" stroke-width="0.25" >100</text>
<line x1="328.1" y1="101.5" x2="332.2" y2="101.5" stroke="#333" stroke-width="1.1" />
<text x="323.4" y="106.0" font-size="15" text-anchor="end" fill="#000" font-weight="bold" textLength="13.9" lengthAdjust="spacingAndGlyphs" stroke="#000" stroke-width="0.25" >75</text>
<line x1="328.1" y1="169.3" x2="332.2" y2="169.3" stroke="#333" stroke-width="1.1" />
<text x="323.4" y="173.8" font-size="15" text-anchor="end" fill="#000" font-weight="bold" textLength="13.9" lengthAdjust="spacingAndGlyphs" stroke="#000" stroke-width="0.25" >50</text>
<line x1="328.1" y1="237.4" x2="332.2" y2="237.4" stroke="#333" stroke-width="1.1" />
<text x="323.4" y="241.9" font-size="15" text-anchor="end" fill="#000" font-weight="bold" textLength="13.9" lengthAdjust="spacingAndGlyphs" stroke="#000" stroke-width="0.25" >25</text>
<line x1="328.1" y1="305.5" x2="332.2" y2="305.5" stroke="#333" stroke-width="1.1" />
<text x="323.4" y="310.0" font-size="15" text-anchor="end" fill="#000" font-weight="bold" textLength="7.0" lengthAdjust="spacingAndGlyphs" stroke="#000" stroke-width="0.25" >0</text>
<text x="294.0" y="152.7" font-size="17.5" text-anchor="middle" fill="#000" font-weight="bold" transform="rotate(-90 294.0 152.7)" textLength="176.5" lengthAdjust="spacingAndGlyphs" stroke="#000" stroke-width="0.25" >Relative abundance (%)</text>
<text x="348.0" y="331.9" font-size="9.5" text-anchor="middle" fill="#b0b0b0" font-weight="normal" >+</text>
<text x="352.8" y="332.5" font-size="14.2" text-anchor="start" fill="#000" font-weight="bold" textLength="22.2" lengthAdjust="spacingAndGlyphs" stroke="#000" stroke-width="0.25" >PBS</text>
<text x="395.0" y="331.9" font-size="9.5" text-anchor="middle" fill="#b0b0b0" font-weight="normal" >+</text>
<text x="398.9" y="332.5" font-size="14.2" text-anchor="start" fill="#000" font-weight="bold" textLength="35.8" lengthAdjust="spacingAndGlyphs" stroke="#000" stroke-width="0.25" >Enrich</text>
<text x="436.7" y="327.6" font-size="8.6" text-anchor="start" fill="#000" font-weight="bold" textLength="15.9" lengthAdjust="spacingAndGlyphs" stroke="#000" stroke-width="0.25" >WES</text>
<text x="462.6" y="331.9" font-size="9.5" text-anchor="middle" fill="#b0b0b0" font-weight="normal" >+</text>
<text x="466.5" y="332.5" font-size="14.2" text-anchor="start" fill="#000" font-weight="bold" textLength="36.1" lengthAdjust="spacingAndGlyphs" stroke="#000" stroke-width="0.25" >Enrich</text>
<text x="504.3" y="327.6" font-size="8.6" text-anchor="start" fill="#000" font-weight="bold" textLength="12.3" lengthAdjust="spacingAndGlyphs" stroke="#000" stroke-width="0.25" >BFS</text>
<text x="537.1" y="331.9" font-size="9.5" text-anchor="middle" fill="#b0b0b0" font-weight="normal" >+</text>
<text x="540.6" y="332.5" font-size="14.2" text-anchor="start" fill="#000" font-weight="bold" textLength="23.2" lengthAdjust="spacingAndGlyphs" stroke="#000" stroke-width="0.25" >PBS</text>
<text x="583.5" y="331.9" font-size="9.5" text-anchor="middle" fill="#b0b0b0" font-weight="normal" >+</text>
<text x="587.0" y="332.5" font-size="14.2" text-anchor="start" fill="#000" font-weight="bold" textLength="37.0" lengthAdjust="spacingAndGlyphs" stroke="#000" stroke-width="0.25" >Enrich</text>
<text x="625.7" y="327.6" font-size="8.6" text-anchor="start" fill="#000" font-weight="bold" textLength="15.6" lengthAdjust="spacingAndGlyphs" stroke="#000" stroke-width="0.25" >WES</text>
<text x="651.1" y="331.9" font-size="9.5" text-anchor="middle" fill="#b0b0b0" font-weight="normal" >+</text>
<text x="654.6" y="332.5" font-size="14.2" text-anchor="start" fill="#000" font-weight="bold" textLength="36.4" lengthAdjust="spacingAndGlyphs" stroke="#000" stroke-width="0.25" >Enrich</text>
<text x="692.3" y="327.6" font-size="8.6" text-anchor="start" fill="#000" font-weight="bold" textLength="13.4" lengthAdjust="spacingAndGlyphs" stroke="#000" stroke-width="0.25" >BFS</text>
<line x1="344.3" y1="339.5" x2="515.0" y2="339.5" stroke="#222" stroke-width="1.3" />
<line x1="534.3" y1="339.4" x2="705.1" y2="339.4" stroke="#222" stroke-width="1.3" />
<text x="425.3" y="355.8" font-size="16.5" text-anchor="middle" fill="#000" font-weight="bold" stroke="#000" stroke-width="0.25" >WES</text>
<text x="619.5" y="355.8" font-size="16.5" text-anchor="middle" fill="#000" font-weight="bold" stroke="#000" stroke-width="0.25" >BFS</text>
<rect x="717.40" y="16.50" width="17.60" height="15.30" fill="#7F7F7F" stroke="none" stroke-width="1" />
<text x="738.5" y="29.9" font-size="12.8" text-anchor="start" fill="#000" font-weight="bold" textLength="36.8" lengthAdjust="spacingAndGlyphs" stroke="#000" stroke-width="0.25" >Others</text>
<rect x="717.40" y="33.80" width="17.60" height="16.90" fill="#00A087" stroke="none" stroke-width="1" />
<text x="738.5" y="47.6" font-size="12.3" text-anchor="start" fill="#000" font-weight="bold" textLength="153.6" lengthAdjust="spacingAndGlyphs" stroke="none">Streptococcaceae_<tspan font-style="italic">Lactococcus</tspan></text>
<rect x="717.40" y="52.80" width="17.60" height="16.90" fill="#F39B7F" stroke="none" stroke-width="1" />
<text x="738.5" y="66.8" font-size="12.8" text-anchor="start" fill="#000" font-weight="bold" textLength="195.3" lengthAdjust="spacingAndGlyphs" stroke="#000" stroke-width="0.25" >Microbacteriaceae_<tspan font-style="italic">Microbacterium</tspan></text>
<rect x="717.40" y="72.10" width="17.60" height="16.90" fill="#FFB6C1" stroke="none" stroke-width="1" />
<text x="738.5" y="85.6" font-size="12.8" text-anchor="start" fill="#000" font-weight="bold" textLength="196.0" lengthAdjust="spacingAndGlyphs" stroke="#000" stroke-width="0.25" >Bifidobacteriaceae_<tspan font-style="italic">Bifidobacterium</tspan></text>
<rect x="717.40" y="91.30" width="17.60" height="16.90" fill="#9F86FF" stroke="none" stroke-width="1" />
<text x="738.5" y="104.3" font-size="12.8" text-anchor="start" fill="#000" font-weight="bold" textLength="177.6" lengthAdjust="spacingAndGlyphs" stroke="#000" stroke-width="0.25" >Cyclobacteriaceae_<tspan font-style="italic">Algoriphagus</tspan></text>
<rect x="717.40" y="110.30" width="17.60" height="16.90" fill="#7B68EE" stroke="none" stroke-width="1" />
<text x="738.5" y="122.9" font-size="12.8" text-anchor="start" fill="#000" font-weight="bold" textLength="148.7" lengthAdjust="spacingAndGlyphs" stroke="#000" stroke-width="0.25" >Flavobacteriaceae_<tspan font-style="italic">Formosa</tspan></text>
<rect x="717.40" y="129.10" width="17.60" height="16.90" fill="#6A5ACD" stroke="none" stroke-width="1" />
<text x="738.5" y="141.6" font-size="12.8" text-anchor="start" fill="#000" font-weight="bold" textLength="183.1" lengthAdjust="spacingAndGlyphs" stroke="#000" stroke-width="0.25" >Flavobacteriaceae_<tspan font-style="italic">Xanthomarina</tspan></text>
<rect x="717.40" y="147.80" width="17.60" height="16.90" fill="#3C5488" stroke="none" stroke-width="1" />
<text x="738.5" y="160.2" font-size="12.8" text-anchor="start" fill="#000" font-weight="bold" textLength="185.2" lengthAdjust="spacingAndGlyphs" stroke="#000" stroke-width="0.25" >Flavobacteriaceae_<tspan font-style="italic">Tenacibaculum</tspan></text>
<rect x="717.40" y="166.50" width="17.60" height="16.90" fill="#AFEEEE" stroke="none" stroke-width="1" />
<text x="738.5" y="178.9" font-size="12.8" text-anchor="start" fill="#000" font-weight="bold" textLength="249.9" lengthAdjust="spacingAndGlyphs" stroke="#000" stroke-width="0.25" >Pseudoalteromonadaceae_<tspan font-style="italic">Pseudoalteromonas</tspan></text>
<rect x="717.40" y="185.00" width="17.60" height="16.90" fill="#40E0D0" stroke="none" stroke-width="1" />
<text x="738.5" y="197.6" font-size="12.8" text-anchor="start" fill="#000" font-weight="bold" textLength="186.1" lengthAdjust="spacingAndGlyphs" stroke="#000" stroke-width="0.25" >Psychromonadaceae_<tspan font-style="italic">Motilimonas</tspan></text>
<rect x="717.40" y="203.70" width="17.60" height="16.90" fill="#00CED1" stroke="none" stroke-width="1" />
<text x="738.5" y="216.2" font-size="12.8" text-anchor="start" fill="#000" font-weight="bold" textLength="164.1" lengthAdjust="spacingAndGlyphs" stroke="#000" stroke-width="0.25" >Vibrionaceae_<tspan font-style="italic">Photobacterium</tspan></text>
<rect x="717.40" y="222.40" width="17.60" height="16.90" fill="#4DBBD5" stroke="none" stroke-width="1" />
<text x="738.5" y="234.9" font-size="12.8" text-anchor="start" fill="#000" font-weight="bold" textLength="111.9" lengthAdjust="spacingAndGlyphs" stroke="#000" stroke-width="0.25" >Vibrionaceae_<tspan font-style="italic">Vibrio</tspan></text>
<rect x="717.40" y="241.00" width="17.60" height="16.90" fill="#D2B48C" stroke="none" stroke-width="1" />
<text x="738.5" y="253.5" font-size="12.8" text-anchor="start" fill="#000" font-weight="bold" textLength="164.7" lengthAdjust="spacingAndGlyphs" stroke="#000" stroke-width="0.25" >Rhodobacteraceae_<tspan font-style="italic">Loktanella</tspan></text>
<rect x="717.40" y="259.70" width="17.60" height="16.90" fill="#F4A460" stroke="none" stroke-width="1" />
<text x="738.5" y="272.2" font-size="12.8" text-anchor="start" fill="#000" font-weight="bold" textLength="176.0" lengthAdjust="spacingAndGlyphs" stroke="#000" stroke-width="0.25" >Rhodobacteraceae_<tspan font-style="italic">Sulfitobacter</tspan></text>
<rect x="717.40" y="278.40" width="17.60" height="16.90" fill="#FF8C00" stroke="none" stroke-width="1" />
<text x="738.5" y="290.9" font-size="12.8" text-anchor="start" fill="#000" font-weight="bold" textLength="176.9" lengthAdjust="spacingAndGlyphs" stroke="#000" stroke-width="0.25" >Rhodobacteraceae_<tspan font-style="italic">Rhodovulum</tspan></text>
<rect x="717.40" y="297.10" width="17.60" height="16.90" fill="#FF7F50" stroke="none" stroke-width="1" />
<text x="738.5" y="309.5" font-size="12.8" text-anchor="start" fill="#000" font-weight="bold" textLength="167.1" lengthAdjust="spacingAndGlyphs" stroke="#000" stroke-width="0.25" >Rhodobacteraceae_<tspan font-style="italic">Paracoccus</tspan></text>
<rect x="717.40" y="315.80" width="17.60" height="16.90" fill="#FF6347" stroke="none" stroke-width="1" />
<text x="738.5" y="328.2" font-size="12.8" text-anchor="start" fill="#000" font-weight="bold" textLength="156.1" lengthAdjust="spacingAndGlyphs" stroke="#000" stroke-width="0.25" >Rhodobacteraceae_<tspan font-style="italic">Ruegeria</tspan></text>
<rect x="717.40" y="334.50" width="17.60" height="16.90" fill="#E64B35" stroke="none" stroke-width="1" />
<text x="738.5" y="346.8" font-size="12.8" text-anchor="start" fill="#000" font-weight="bold" textLength="100.9" lengthAdjust="spacingAndGlyphs" stroke="#000" stroke-width="0.25" >Rhodobacteraceae</text>
<line x1="898.6" y1="39.7" x2="898.6" y2="51.4" stroke="#222" stroke-width="1" />
<text x="903.2" y="49.3" font-size="11.5" text-anchor="start" fill="#000" font-weight="bold" textLength="53.7" lengthAdjust="spacingAndGlyphs" stroke="#000" stroke-width="0.25" >Firmicutes</text>
<line x1="938.5" y1="59.0" x2="938.5" y2="85.7" stroke="#555" stroke-width="1" />
<text x="942.1" y="75.0" font-size="13" text-anchor="start" fill="#000" font-weight="bold" textLength="80.7" lengthAdjust="spacingAndGlyphs" stroke="#000" stroke-width="0.25" >Actinobacteria</text>
<line x1="928.6" y1="96.8" x2="928.6" y2="160.9" stroke="#222" stroke-width="1" />
<text x="942.2" y="130.4" font-size="12" text-anchor="middle" fill="#000" font-weight="bold" transform="rotate(-90 942.2 130.4)" textLength="69.0" lengthAdjust="spacingAndGlyphs" stroke="#000" stroke-width="0.25" >Bacteroidetes</text>
<line x1="993.7" y1="168.0" x2="993.7" y2="247.3" stroke="#222" stroke-width="1" />
<text x="1007.3" y="208.0" font-size="12.5" text-anchor="middle" fill="#000" font-weight="bold" transform="rotate(-90 1007.3 208.0)" textLength="86.0" lengthAdjust="spacingAndGlyphs" stroke="#000" stroke-width="0.25" >β-proteobacteria</text>
<line x1="919.4" y1="247.3" x2="919.4" y2="347.9" stroke="#555" stroke-width="1" />
<text x="934.5" y="299.6" font-size="12.5" text-anchor="middle" fill="#000" font-weight="bold" transform="rotate(-90 934.5 299.6)" textLength="87.4" lengthAdjust="spacingAndGlyphs" stroke="#000" stroke-width="0.25" >α-proteobacteria</text>
<text x="3.0" y="384.8" font-size="23" text-anchor="start" fill="#000" font-weight="bold" textLength="9.6" lengthAdjust="spacingAndGlyphs" stroke="#000" stroke-width="0.25" >c</text>
<line x1="52.3" y1="377.3" x2="52.3" y2="659.5" stroke="#8c8c8c" stroke-width="1.2" />
<line x1="51.7" y1="377.3" x2="367.8" y2="377.3" stroke="#b5b5b5" stroke-width="1.3" />
<line x1="367.1" y1="377.3" x2="367.1" y2="660.0" stroke="#8f8f8f" stroke-width="1.5" />
<line x1="51.7" y1="659.5" x2="367.8" y2="659.5" stroke="#666" stroke-width="1.1" />
<line x1="47.8" y1="403.7" x2="52.1" y2="403.7" stroke="#333" stroke-width="1.2" />
<text x="43.5" y="408.5" font-size="15" text-anchor="end" fill="#000" font-weight="bold" stroke="#000" stroke-width="0.25" >0.6</text>
<line x1="47.8" y1="489.9" x2="52.1" y2="489.9" stroke="#333" stroke-width="1.2" />
<text x="43.5" y="494.7" font-size="15" text-anchor="end" fill="#000" font-weight="bold" stroke="#000" stroke-width="0.25" >0.4</text>
<line x1="47.8" y1="575.8" x2="52.1" y2="575.8" stroke="#333" stroke-width="1.2" />
<text x="43.5" y="580.6" font-size="15" text-anchor="end" fill="#000" font-weight="bold" stroke="#000" stroke-width="0.25" >0.2</text>
<line x1="47.8" y1="656.7" x2="52.1" y2="656.7" stroke="#333" stroke-width="1.2" />
<text x="43.5" y="661.5" font-size="15" text-anchor="end" fill="#000" font-weight="bold" stroke="#000" stroke-width="0.25" >0.0</text>
<text x="16.5" y="521.3" font-size="17" text-anchor="middle" fill="#000" font-weight="bold" transform="rotate(-90 16.5 521.3)" textLength="238.3" lengthAdjust="spacingAndGlyphs" stroke="#000" stroke-width="0.25" >Similarity between -<tspan font-style="italic">VP</tspan> and +<tspan font-style="italic">VP</tspan></text>
<line x1="82.6" y1="659.5" x2="82.6" y2="663.9" stroke="#555" stroke-width="1.3" />
<line x1="133.2" y1="659.5" x2="133.2" y2="663.9" stroke="#555" stroke-width="1.3" />
<line x1="183.7" y1="659.5" x2="183.7" y2="663.9" stroke="#555" stroke-width="1.3" />
<line x1="234.3" y1="659.5" x2="234.3" y2="663.9" stroke="#555" stroke-width="1.3" />
<line x1="285.3" y1="659.5" x2="285.3" y2="663.9" stroke="#555" stroke-width="1.3" />
<line x1="336.4" y1="659.5" x2="336.4" y2="663.9" stroke="#555" stroke-width="1.3" />
<line x1="82.3" y1="461.2" x2="82.3" y2="489.4" stroke="#E64B35" stroke-width="1.7" />
<line x1="82.3" y1="613.2" x2="82.3" y2="646.0" stroke="#E64B35" stroke-width="1.7" />
<rect x="69.10" y="489.40" width="26.40" height="123.80" fill="none" stroke="#E64B35" stroke-width="1.7" />
<line x1="69.1" y1="590.3" x2="95.5" y2="590.3" stroke="#E64B35" stroke-width="3.74" />
<circle cx="81.0" cy="461.2" r="2.8" fill="#E64B35" fill-opacity="0.85"/>
<circle cx="78.6" cy="486.4" r="2.8" fill="#E64B35" fill-opacity="0.85"/>
<circle cx="87.6" cy="493.2" r="2.8" fill="#E64B35" fill-opacity="0.85"/>
<circle cx="77.6" cy="592.9" r="2.8" fill="#E64B35" fill-opacity="0.85"/>
<circle cx="85.9" cy="590.6" r="2.8" fill="#E64B35" fill-opacity="0.85"/>
<circle cx="79.4" cy="635.4" r="2.8" fill="#E64B35" fill-opacity="0.85"/>
<circle cx="78.1" cy="646.8" r="2.8" fill="#E64B35" fill-opacity="0.85"/>
<line x1="133.2" y1="618.2" x2="133.2" y2="626.8" stroke="#4DBBD5" stroke-width="1.7" />
<rect x="120.00" y="586.90" width="26.40" height="31.30" fill="none" stroke="#4DBBD5" stroke-width="1.7" />
<line x1="120.0" y1="593.2" x2="146.4" y2="593.2" stroke="#4DBBD5" stroke-width="3.74" />
<circle cx="132.6" cy="513.6" r="2.8" fill="#4DBBD5" fill-opacity="0.85"/>
<circle cx="131.5" cy="521.2" r="2.8" fill="#4DBBD5" fill-opacity="0.85"/>
<circle cx="135.7" cy="587.2" r="2.8" fill="#4DBBD5" fill-opacity="0.85"/>
<circle cx="127.6" cy="590.8" r="2.8" fill="#4DBBD5" fill-opacity="0.85"/>
<circle cx="132.3" cy="593.7" r="2.8" fill="#4DBBD5" fill-opacity="0.85"/>
<circle cx="139.3" cy="614.5" r="2.8" fill="#4DBBD5" fill-opacity="0.85"/>
<circle cx="134.1" cy="618.2" r="2.8" fill="#4DBBD5" fill-opacity="0.85"/>
<circle cx="135.4" cy="624.2" r="2.8" fill="#4DBBD5" fill-opacity="0.85"/>
<circle cx="136.7" cy="627.3" r="2.8" fill="#4DBBD5" fill-opacity="0.85"/>
<line x1="184.0" y1="390.4" x2="184.0" y2="426.7" stroke="#00A087" stroke-width="1.7" />
<line x1="184.0" y1="464.8" x2="184.0" y2="480.0" stroke="#00A087" stroke-width="1.7" />
<rect x="170.80" y="426.70" width="26.40" height="38.10" fill="none" stroke="#00A087" stroke-width="1.7" />
<line x1="170.8" y1="448.3" x2="197.2" y2="448.3" stroke="#00A087" stroke-width="3.74" />
<circle cx="177.2" cy="390.1" r="2.8" fill="#00A087" fill-opacity="0.85"/>
<circle cx="177.2" cy="411.5" r="2.8" fill="#00A087" fill-opacity="0.85"/>
<circle cx="188.5" cy="442.5" r="2.8" fill="#00A087" fill-opacity="0.85"/>
<circle cx="180.3" cy="448.8" r="2.8" fill="#00A087" fill-opacity="0.85"/>
<circle cx="191.3" cy="448.8" r="2.8" fill="#00A087" fill-opacity="0.85"/>
<circle cx="176.5" cy="480.5" r="2.8" fill="#00A087" fill-opacity="0.85"/>
<circle cx="189.7" cy="527.6" r="2.8" fill="#00A087" fill-opacity="0.85"/>
<line x1="234.9" y1="426.5" x2="234.9" y2="453.7" stroke="#3C5488" stroke-width="1.7" />
<line x1="234.9" y1="520.4" x2="234.9" y2="549.2" stroke="#3C5488" stroke-width="1.7" />
<rect x="222.20" y="453.70" width="25.40" height="66.70" fill="none" stroke="#3C5488" stroke-width="1.7" />
<line x1="222.2" y1="487.5" x2="247.6" y2="487.5" stroke="#3C5488" stroke-width="3.74" />
<circle cx="236.9" cy="426.5" r="2.8" fill="#3C5488" fill-opacity="0.8"/>
<circle cx="229.4" cy="440.8" r="2.8" fill="#3C5488" fill-opacity="0.8"/>
<circle cx="240.9" cy="458.4" r="2.8" fill="#3C5488" fill-opacity="0.8"/>
<circle cx="233.2" cy="467.6" r="2.8" fill="#3C5488" fill-opacity="0.8"/>
<circle cx="229.0" cy="507.0" r="2.8" fill="#3C5488" fill-opacity="0.8"/>
<circle cx="242.6" cy="516.9" r="2.8" fill="#3C5488" fill-opacity="0.8"/>
<circle cx="229.1" cy="532.2" r="2.8" fill="#3C5488" fill-opacity="0.8"/>
<circle cx="240.8" cy="549.2" r="2.8" fill="#3C5488" fill-opacity="0.8"/>
<line x1="285.5" y1="495.3" x2="285.5" y2="505.4" stroke="#F39B7F" stroke-width="1.7" />
<line x1="285.5" y1="602.3" x2="285.5" y2="625.5" stroke="#F39B7F" stroke-width="1.7" />
<rect x="272.60" y="505.40" width="25.80" height="96.90" fill="none" stroke="#F39B7F" stroke-width="1.7" />
<line x1="272.6" y1="552.3" x2="298.4" y2="552.3" stroke="#F39B7F" stroke-width="3.74" />
<circle cx="285.5" cy="494.8" r="2.8" fill="#F39B7F" fill-opacity="0.85"/>
<circle cx="289.9" cy="529.6" r="2.8" fill="#F39B7F" fill-opacity="0.85"/>
<circle cx="292.1" cy="574.4" r="2.8" fill="#F39B7F" fill-opacity="0.85"/>
<circle cx="279.3" cy="611.1" r="2.8" fill="#F39B7F" fill-opacity="0.85"/>
<circle cx="288.4" cy="625.5" r="2.8" fill="#F39B7F" fill-opacity="0.85"/>
<line x1="336.5" y1="390.8" x2="336.5" y2="431.9" stroke="#8491B4" stroke-width="1.7" />
<line x1="336.5" y1="481.2" x2="336.5" y2="489.4" stroke="#8491B4" stroke-width="1.7" />
<rect x="323.30" y="431.90" width="26.40" height="49.30" fill="none" stroke="#8491B4" stroke-width="1.7" />
<line x1="323.3" y1="457.7" x2="349.7" y2="457.7" stroke="#8491B4" stroke-width="3.74" />
<circle cx="340.9" cy="390.8" r="2.8" fill="#8491B4" fill-opacity="0.85"/>
<circle cx="330.4" cy="418.5" r="2.8" fill="#8491B4" fill-opacity="0.85"/>
<circle cx="336.9" cy="445.3" r="2.8" fill="#8491B4" fill-opacity="0.85"/>
<circle cx="332.0" cy="458.0" r="2.8" fill="#8491B4" fill-opacity="0.85"/>
<circle cx="336.9" cy="476.7" r="2.8" fill="#8491B4" fill-opacity="0.85"/>
<circle cx="333.9" cy="486.1" r="2.8" fill="#8491B4" fill-opacity="0.85"/>
<circle cx="331.8" cy="491.1" r="2.8" fill="#8491B4" fill-opacity="0.85"/>
<text x="80.5" y="452.3" font-size="15" text-anchor="middle" fill="#000" font-weight="bold" stroke="#000" stroke-width="0.25" >c</text>
<text x="130.3" y="501.2" font-size="15" text-anchor="middle" fill="#000" font-weight="bold" stroke="#000" stroke-width="0.25" >c</text>
<text x="183.8" y="386.6" font-size="15" text-anchor="middle" fill="#000" font-weight="bold" stroke="#000" stroke-width="0.25" >a</text>
<text x="235.5" y="420.2" font-size="15" text-anchor="middle" fill="#000" font-weight="bold" stroke="#000" stroke-width="0.25" >b</text>
<text x="284.4" y="489.4" font-size="15" text-anchor="middle" fill="#000" font-weight="bold" stroke="#000" stroke-width="0.25" >c</text>
<text x="337.2" y="389.2" font-size="15" text-anchor="middle" fill="#000" font-weight="bold" stroke="#000" stroke-width="0.25" >ab</text>
<text x="82.5" y="675.6" font-size="11.9" text-anchor="middle" fill="#000" font-weight="bold" stroke="#000" stroke-width="0.25" ><tspan fill="#000" font-weight="bold">+</tspan>PBS</text>
<text x="128.6" y="675.6" font-size="11.9" text-anchor="middle" fill="#000" font-weight="bold" stroke="#000" stroke-width="0.25" ><tspan fill="#000" font-weight="bold">+</tspan>Enrich<tspan font-size="7" dy="-4.4">WES</tspan></text>
<text x="187.7" y="675.6" font-size="11.9" text-anchor="middle" fill="#000" font-weight="bold" stroke="#000" stroke-width="0.25" ><tspan fill="#000" font-weight="bold">+</tspan>Enrich<tspan font-size="7" dy="-4.4">BFS</tspan></text>
<text x="234.8" y="675.6" font-size="11.9" text-anchor="middle" fill="#000" font-weight="bold" stroke="#000" stroke-width="0.25" ><tspan fill="#000" font-weight="bold">+</tspan>PBS</text>
<text x="281.8" y="675.6" font-size="11.9" text-anchor="middle" fill="#000" font-weight="bold" stroke="#000" stroke-width="0.25" ><tspan fill="#000" font-weight="bold">+</tspan>Enrich<tspan font-size="7" dy="-4.4">WES</tspan></text>
<text x="340.8" y="675.6" font-size="11.9" text-anchor="middle" fill="#000" font-weight="bold" stroke="#000" stroke-width="0.25" ><tspan fill="#000" font-weight="bold">+</tspan>Enrich<tspan font-size="7" dy="-4.4">BFS</tspan></text>
<line x1="69.0" y1="682.5" x2="212.1" y2="682.5" stroke="#222" stroke-width="1.3" />
<line x1="223.3" y1="682.5" x2="366.6" y2="682.5" stroke="#222" stroke-width="1.3" />
<text x="139.3" y="697.0" font-size="17" text-anchor="middle" fill="#000" font-weight="bold" stroke="#000" stroke-width="0.25" >WES</text>
<text x="297.6" y="697.0" font-size="17" text-anchor="middle" fill="#000" font-weight="bold" stroke="#000" stroke-width="0.25" >BFS</text>
<text x="402.4" y="382.8" font-size="23.5" text-anchor="start" fill="#000" font-weight="bold" textLength="11.9" lengthAdjust="spacingAndGlyphs" stroke="#000" stroke-width="0.25" >d</text>
<line x1="445.0" y1="378.3" x2="445.0" y2="659.0" stroke="#333" stroke-width="1.9" />
<line x1="444.1" y1="379.0" x2="715.8" y2="379.0" stroke="#707070" stroke-width="1.5" />
<line x1="714.9" y1="378.3" x2="714.9" y2="659.0" stroke="#555" stroke-width="1.8" />
<line x1="444.1" y1="658.5" x2="715.8" y2="658.5" stroke="#4a4a4a" stroke-width="1.2" />
<line x1="439.6" y1="412.7" x2="445.0" y2="412.7" stroke="#333" stroke-width="1.3" />
<text x="437.4" y="417.7" font-size="15.4" text-anchor="end" fill="#000" font-weight="bold" stroke="#000" stroke-width="0.25" >0.6</text>
<line x1="439.6" y1="507.5" x2="445.0" y2="507.5" stroke="#333" stroke-width="1.3" />
<text x="437.4" y="512.5" font-size="15.4" text-anchor="end" fill="#000" font-weight="bold" stroke="#000" stroke-width="0.25" >0.4</text>
<line x1="439.6" y1="602.8" x2="445.0" y2="602.8" stroke="#333" stroke-width="1.3" />
<text x="437.4" y="607.8" font-size="15.4" text-anchor="end" fill="#000" font-weight="bold" stroke="#000" stroke-width="0.25" >0.2</text>
<line x1="456.7" y1="658.5" x2="456.7" y2="664.0" stroke="#444" stroke-width="1.5" />
<text x="456.7" y="678.3" font-size="15" text-anchor="middle" fill="#000" font-weight="bold" stroke="#000" stroke-width="0.25" >20</text>
<line x1="518.2" y1="658.5" x2="518.2" y2="664.0" stroke="#444" stroke-width="1.5" />
<text x="518.2" y="678.3" font-size="15" text-anchor="middle" fill="#000" font-weight="bold" stroke="#000" stroke-width="0.25" >40</text>
<line x1="579.6" y1="658.5" x2="579.6" y2="664.0" stroke="#444" stroke-width="1.5" />
<text x="579.6" y="678.3" font-size="15" text-anchor="middle" fill="#000" font-weight="bold" stroke="#000" stroke-width="0.25" >60</text>
<line x1="641.1" y1="658.5" x2="641.1" y2="664.0" stroke="#444" stroke-width="1.5" />
<text x="641.1" y="678.3" font-size="15" text-anchor="middle" fill="#000" font-weight="bold" stroke="#000" stroke-width="0.25" >80</text>
<line x1="702.5" y1="658.5" x2="702.5" y2="664.0" stroke="#444" stroke-width="1.5" />
<text x="702.5" y="678.3" font-size="15" text-anchor="middle" fill="#000" font-weight="bold" stroke="#000" stroke-width="0.25" >100</text>
<text x="574.9" y="696.0" font-size="17" text-anchor="middle" fill="#000" font-weight="bold" textLength="213.7" lengthAdjust="spacingAndGlyphs" stroke="#000" stroke-width="0.25" >SR after <tspan font-style="italic">Vibrio</tspan> infection (%)</text>
<text x="409.6" y="527.9" font-size="17" text-anchor="middle" fill="#000" font-weight="bold" transform="rotate(-90 409.6 527.9)" textLength="227.0" lengthAdjust="spacingAndGlyphs" stroke="#000" stroke-width="0.25" >Bacterial community similarity</text>
<line x1="456.7" y1="543.4" x2="702.7" y2="444.3" stroke="#E64B35" stroke-width="2.2" />
<line x1="456.7" y1="601.3" x2="702.7" y2="481.2" stroke="#4DBBD5" stroke-width="2.2" />
<circle cx="456.7" cy="491.3" r="4.7" fill="#E64B35" fill-opacity="1"/>
<circle cx="456.7" cy="512.4" r="4.7" fill="#E64B35" fill-opacity="1"/>
<circle cx="518.2" cy="479.6" r="4.7" fill="#E64B35" fill-opacity="1"/>
<circle cx="487.7" cy="526.0" r="4.7" fill="#E64B35" fill-opacity="1"/>
<circle cx="518.2" cy="526.0" r="4.7" fill="#E64B35" fill-opacity="1"/>
<circle cx="641.4" cy="390.8" r="4.7" fill="#E64B35" fill-opacity="1"/>
<circle cx="641.4" cy="422.0" r="4.7" fill="#E64B35" fill-opacity="1"/>
<circle cx="671.9" cy="405.4" r="4.7" fill="#E64B35" fill-opacity="1"/>
<circle cx="671.9" cy="409.6" r="4.7" fill="#E64B35" fill-opacity="1"/>
<circle cx="671.9" cy="442.0" r="4.7" fill="#E64B35" fill-opacity="1"/>
<circle cx="671.9" cy="446.7" r="4.7" fill="#E64B35" fill-opacity="1"/>
<circle cx="641.4" cy="467.1" r="4.7" fill="#E64B35" fill-opacity="1"/>
<circle cx="702.7" cy="473.7" r="4.7" fill="#E64B35" fill-opacity="1"/>
<circle cx="702.7" cy="517.6" r="4.7" fill="#E64B35" fill-opacity="1"/>
<circle cx="549.2" cy="568.7" r="4.7" fill="#E64B35" fill-opacity="1"/>
<circle cx="579.6" cy="537.2" r="4.7" fill="#E64B35" fill-opacity="1"/>
<circle cx="579.6" cy="577.8" r="4.7" fill="#E64B35" fill-opacity="1"/>
<circle cx="518.2" cy="591.1" r="4.7" fill="#E64B35" fill-opacity="1"/>
<circle cx="487.7" cy="515.7" r="4.7" fill="#4DBBD5" fill-opacity="1"/>
<circle cx="548.9" cy="525.3" r="4.7" fill="#4DBBD5" fill-opacity="1"/>
<circle cx="671.9" cy="459.4" r="4.7" fill="#4DBBD5" fill-opacity="1"/>
<circle cx="641.4" cy="474.6" r="4.7" fill="#4DBBD5" fill-opacity="1"/>
<circle cx="641.4" cy="491.3" r="4.7" fill="#4DBBD5" fill-opacity="1"/>
<circle cx="702.7" cy="474.9" r="4.7" fill="#4DBBD5" fill-opacity="1"/>
<circle cx="702.7" cy="480.7" r="4.7" fill="#4DBBD5" fill-opacity="1"/>
<circle cx="671.9" cy="505.1" r="4.7" fill="#4DBBD5" fill-opacity="1"/>
<circle cx="671.9" cy="524.6" r="4.7" fill="#4DBBD5" fill-opacity="1"/>
<circle cx="671.9" cy="531.5" r="4.7" fill="#4DBBD5" fill-opacity="1"/>
<circle cx="641.4" cy="531.8" r="4.7" fill="#4DBBD5" fill-opacity="1"/>
<circle cx="579.6" cy="535.1" r="4.7" fill="#4DBBD5" fill-opacity="1"/>
<circle cx="518.2" cy="547.6" r="4.7" fill="#4DBBD5" fill-opacity="1"/>
<circle cx="518.2" cy="576.0" r="4.7" fill="#4DBBD5" fill-opacity="1"/>
<circle cx="579.6" cy="582.0" r="4.7" fill="#4DBBD5" fill-opacity="1"/>
<circle cx="518.2" cy="597.3" r="4.7" fill="#4DBBD5" fill-opacity="1"/>
<circle cx="456.7" cy="617.4" r="4.7" fill="#4DBBD5" fill-opacity="1"/>
<circle cx="456.7" cy="646.3" r="4.7" fill="#4DBBD5" fill-opacity="1"/>
<text x="573.6" y="446.0" font-size="14.5" text-anchor="middle" fill="#F03A3A" font-weight="bold" textLength="79.5" lengthAdjust="spacingAndGlyphs" stroke="#F03A3A" stroke-width="0.25" >R²adj = 0.28,</text>
<text x="574.0" y="463.1" font-size="14.5" text-anchor="middle" fill="#F03A3A" font-weight="bold" font-style="italic" textLength="64.3" lengthAdjust="spacingAndGlyphs" stroke="#F03A3A" stroke-width="0.25" >p = 0.0015</text>
<text x="635.6" y="556.1" font-size="14.5" text-anchor="middle" fill="#4DBBD5" font-weight="bold" textLength="74.6" lengthAdjust="spacingAndGlyphs" stroke="#4DBBD5" stroke-width="0.25" >R²adj= 0.61,</text>
<text x="636.3" y="574.6" font-size="14.5" text-anchor="middle" fill="#4DBBD5" font-weight="bold" font-style="italic" textLength="55.6" lengthAdjust="spacingAndGlyphs" stroke="#4DBBD5" stroke-width="0.25" >p &lt; 0.001</text>
<line x1="731.9" y1="490.9" x2="755.6" y2="490.9" stroke="#E64B35" stroke-width="1.6" />
<circle cx="744.3" cy="490.9" r="3.2" fill="#E64B35" fill-opacity="1"/>
<line x1="731.9" y1="523.2" x2="755.6" y2="523.2" stroke="#4DBBD5" stroke-width="1.6" />
<circle cx="744.3" cy="523.2" r="3.2" fill="#4DBBD5" fill-opacity="1"/>
<text x="760.7" y="496.5" font-size="17" text-anchor="start" fill="#000" font-weight="bold" textLength="169.2" lengthAdjust="spacingAndGlyphs" stroke="#000" stroke-width="0.25" >Within-group similarity</text>
<text x="760.7" y="528.9" font-size="17" text-anchor="start" fill="#000" font-weight="bold" textLength="224.0" lengthAdjust="spacingAndGlyphs" stroke="#000" stroke-width="0.25" >Similarity between -<tspan font-style="italic">Vp</tspan> and +<tspan font-style="italic">Vp</tspan></text>
</svg>
</body></html>
